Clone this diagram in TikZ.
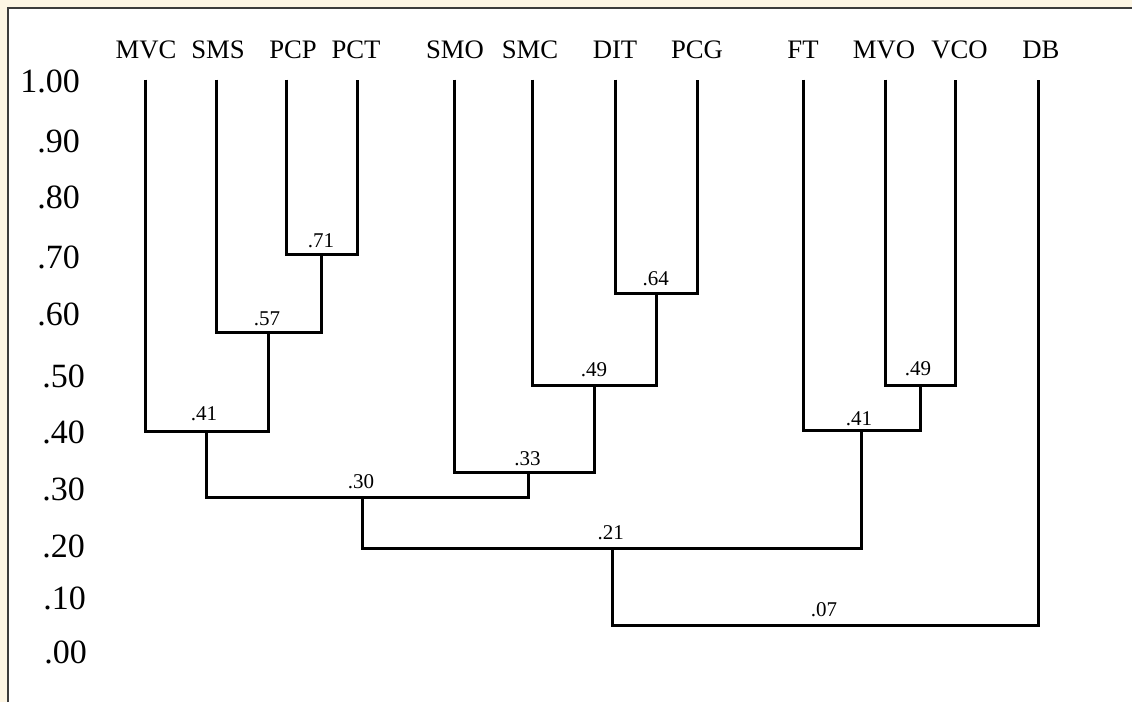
\documentclass[tikz,border=0pt]{standalone}
\usepackage{fontspec}
\setmainfont{Liberation Serif}
\definecolor{cream}{HTML}{FDF6E4}
\definecolor{framegray}{HTML}{3C3C3C}
\tikzset{
  x=1pt, y=-1pt,
  tree/.style={line width=3pt, line join=miter, line cap=butt, black},
  leaflabel/.style={inner sep=0pt, anchor=base, font=\fontsize{26.7}{28}\selectfont},
  axislabel/.style={inner sep=0pt, anchor=base east, font=\fontsize{34}{36}\selectfont},
  mlabel/.style={inner sep=0pt, anchor=base, font=\fontsize{21}{23}\selectfont},
}
\begin{document}
\begin{tikzpicture}
\useasboundingbox (0,0) rectangle (1132,702);
\fill[cream] (0,0) rectangle (1132,702);
\fill[white] (8,8) rectangle (1132,702);
\draw[framegray, line width=2pt] (8,702) -- (8,8) -- (1132,8);

% axis labels
\node[axislabel] (a100) at (80,92) {1.00};
\node[axislabel] (a90) at (80,152) {.90};
\node[axislabel] (a80) at (80,208) {.80};
\node[axislabel] (a70) at (80,268) {.70};
\node[axislabel] (a60) at (80,325) {.60};
\node[axislabel] (a50) at (85,387) {.50};
\node[axislabel] (a40) at (85,443) {.40};
\node[axislabel] (a30) at (85,500.5) {.30};
\node[axislabel] (a20) at (85,557) {.20};
\node[axislabel] (a10) at (86,609) {.10};
\node[axislabel] (a00) at (87,663) {.00};

% leaf labels
\node[leaflabel] (nMVC) at (146,58) {MVC};
\node[leaflabel] (nSMS) at (218,58) {SMS};
\node[leaflabel] (nPCP) at (293,58) {PCP};
\node[leaflabel] (nPCT) at (356,58) {PCT};
\node[leaflabel] (nSMO) at (455,58) {SMO};
\node[leaflabel] (nSMC) at (530,58) {SMC};
\node[leaflabel] (nDIT) at (615,58) {DIT};
\node[leaflabel] (nPCG) at (697,58) {PCG};
\node[leaflabel] (nFT) at (803,58) {FT};
\node[leaflabel] (nMVO) at (884,58) {MVO};
\node[leaflabel] (nVCO) at (959.5,58) {VCO};
\node[leaflabel] (nDB) at (1041,58) {DB};

% leaf tops
\coordinate (lMVC) at (145,79.5);
\coordinate (lSMS) at (216,79.5);
\coordinate (lPCP) at (286,79.5);
\coordinate (lPCT) at (357,79.5);
\coordinate (lSMO) at (454,79.5);
\coordinate (lSMC) at (532,79.5);
\coordinate (lDIT) at (615,79.5);
\coordinate (lPCG) at (697,79.5);
\coordinate (lFT) at (803,79.5);
\coordinate (lMVO) at (885,79.5);
\coordinate (lVCO) at (955,79.5);
\coordinate (lDB) at (1038,79.5);

% merge points (stem x, bar y)
\coordinate (m71) at (321.5,254.3);
\coordinate (m57) at (268.5,332.3);
\coordinate (m41a) at (206.5,431);
\coordinate (m64) at (656,293.3);
\coordinate (m49a) at (594.5,385.5);
\coordinate (m33) at (528.7,472.8);
\coordinate (m30) at (362,497.7);
\coordinate (m49b) at (920.3,385);
\coordinate (m41b) at (861.5,430.8);
\coordinate (m21) at (612,548);
\coordinate (m07) at (825,625);

\draw[tree] (lPCP) |- (m71) -| (lPCT);
\draw[tree] (lSMS) |- (m57) -| (m71);
\draw[tree] (lMVC) |- (m41a) -| (m57);
\draw[tree] (lDIT) |- (m64) -| (lPCG);
\draw[tree] (lSMC) |- (m49a) -| (m64);
\draw[tree] (lSMO) |- (m33) -| (m49a);
\draw[tree] (m41a) |- (m30) -| (m33);
\draw[tree] (lMVO) |- (m49b) -| (lVCO);
\draw[tree] (lFT) |- (m41b) -| (m49b);
\draw[tree] (m30) |- (m21) -| (m41b);
\draw[tree] (m21) |- (m07) -| (lDB);

% merge labels
\node[mlabel] (t71) at (321,247) {.71};
\node[mlabel] (t57) at (267,325) {.57};
\node[mlabel] (t41a) at (204,420) {.41};
\node[mlabel] (t64) at (655.7,285) {.64};
\node[mlabel] (t49a) at (594,376) {.49};
\node[mlabel] (t33) at (527.5,465.7) {.33};
\node[mlabel] (t30) at (361,488.3) {.30};
\node[mlabel] (t49b) at (918,375.7) {.49};
\node[mlabel] (t41b) at (859,425.7) {.41};
\node[mlabel] (t21) at (610.8,539) {.21};
\node[mlabel] (t07) at (824,616.7) {.07};
\end{tikzpicture}
\end{document}
